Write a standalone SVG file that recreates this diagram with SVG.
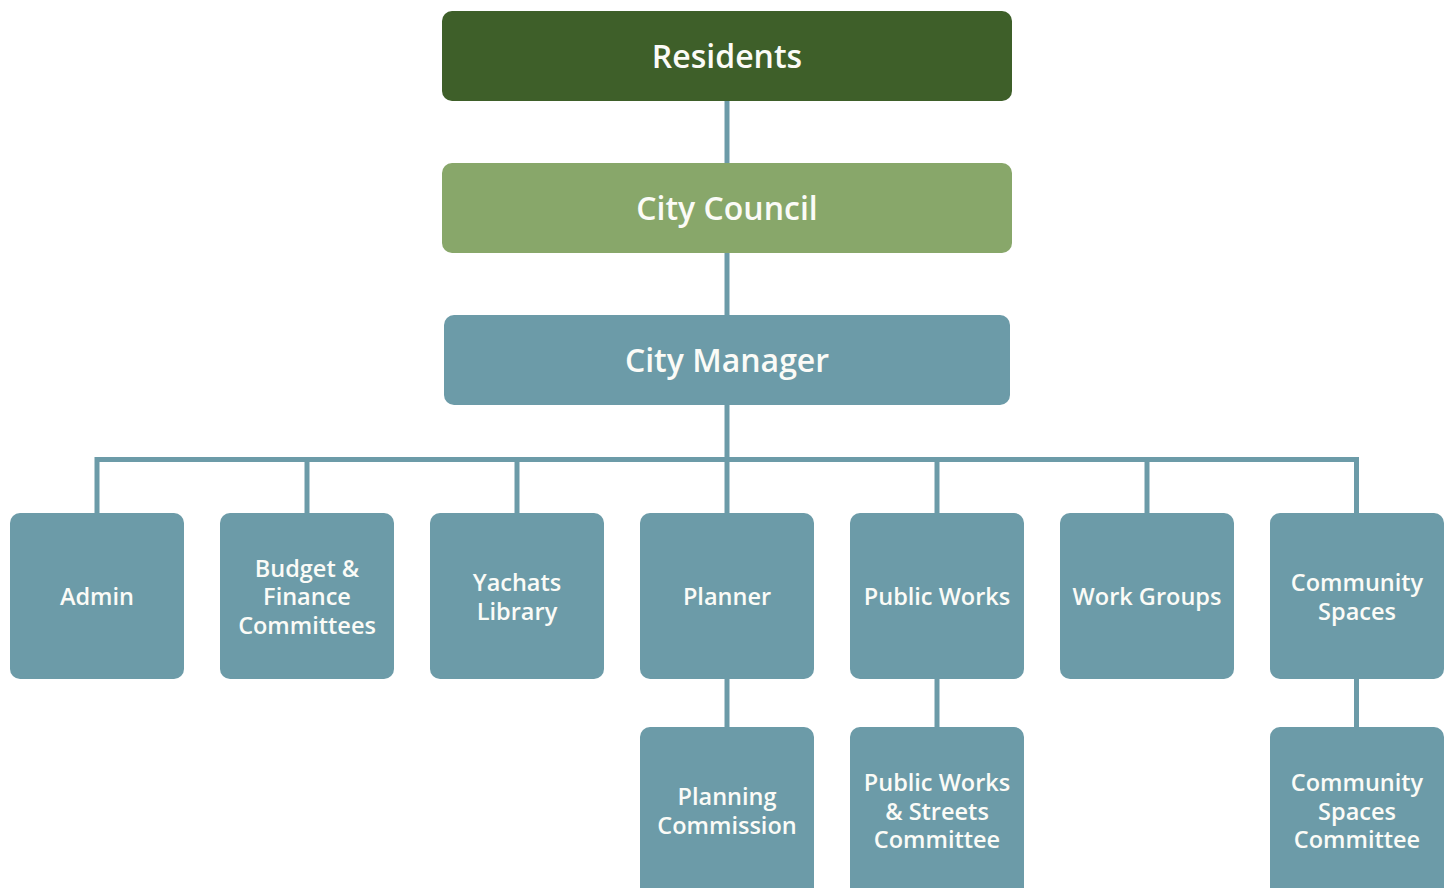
<svg xmlns="http://www.w3.org/2000/svg" width="1448" height="888" viewBox="0 0 1448 888">
<style>
.t{font-family:"Open Sans","Noto Sans","Liberation Sans",sans-serif;font-weight:600;fill:#fbfbf7;text-anchor:middle}
.big{font-size:32px}
.sm{font-size:23.5px}
.box{fill:#6c9ba8}
.ln{stroke:#6c9ba8;stroke-width:5;fill:none}
</style>
<rect width="1448" height="888" fill="#ffffff"/>
<g id="connectors">
<line class="ln" x1="727" y1="100" x2="727" y2="164"/>
<line class="ln" x1="727" y1="252" x2="727" y2="316"/>
<line class="ln" x1="727" y1="404" x2="727" y2="514"/>
<polyline class="ln" points="97,514 97,459.5 1356.5,459.5 1356.5,514"/>
<line class="ln" x1="307" y1="459" x2="307" y2="514"/>
<line class="ln" x1="517" y1="459" x2="517" y2="514"/>
<line class="ln" x1="937" y1="459" x2="937" y2="514"/>
<line class="ln" x1="1147" y1="459" x2="1147" y2="514"/>
<line class="ln" x1="727" y1="678" x2="727" y2="728"/>
<line class="ln" x1="937" y1="678" x2="937" y2="728"/>
<line class="ln" x1="1356.5" y1="678" x2="1356.5" y2="728"/>
</g>
<g id="residents"><rect x="442" y="11" width="570" height="90" rx="10" fill="#3e5f29"/><text class="t big" x="727" y="67.5">Residents</text></g>
<g id="city-council"><rect x="442" y="163" width="570" height="90" rx="10" fill="#88a76a"/><text class="t big" x="727" y="219.5">City Council</text></g>
<g id="city-manager"><rect x="444" y="315" width="566" height="90" rx="10" fill="#6c9ba8"/><text class="t big" x="727" y="372">City Manager</text></g>
<g id="admin"><rect class="box" x="10" y="513" width="174" height="166" rx="10"/><text class="t sm" x="97" y="604.5">Admin</text></g>
<g id="budget-finance"><rect class="box" x="220" y="513" width="174" height="166" rx="10"/><text class="t sm" x="307" y="576.5">Budget &amp;</text><text class="t sm" x="307" y="605">Finance</text><text class="t sm" x="307" y="634">Committees</text></g>
<g id="yachats-library"><rect class="box" x="430" y="513" width="174" height="166" rx="10"/><text class="t sm" x="517" y="590.5">Yachats</text><text class="t sm" x="517" y="619.5">Library</text></g>
<g id="planner"><rect class="box" x="640" y="513" width="174" height="166" rx="10"/><text class="t sm" x="727" y="604.5">Planner</text></g>
<g id="public-works"><rect class="box" x="850" y="513" width="174" height="166" rx="10"/><text class="t sm" x="937" y="604.5">Public Works</text></g>
<g id="work-groups"><rect class="box" x="1060" y="513" width="174" height="166" rx="10"/><text class="t sm" x="1147" y="604.5">Work Groups</text></g>
<g id="community-spaces"><rect class="box" x="1270" y="513" width="174" height="166" rx="10"/><text class="t sm" x="1357" y="590.5">Community</text><text class="t sm" x="1357" y="619.5">Spaces</text></g>
<g id="planning-commission"><rect class="box" x="640" y="727" width="174" height="170" rx="10"/><text class="t sm" x="727" y="804.5">Planning</text><text class="t sm" x="727" y="833.5">Commission</text></g>
<g id="pw-streets-committee"><rect class="box" x="850" y="727" width="174" height="170" rx="10"/><text class="t sm" x="937" y="790.5">Public Works</text><text class="t sm" x="937" y="819.5">&amp; Streets</text><text class="t sm" x="937" y="848">Committee</text></g>
<g id="community-spaces-committee"><rect class="box" x="1270" y="727" width="174" height="170" rx="10"/><text class="t sm" x="1357" y="790.5">Community</text><text class="t sm" x="1357" y="819.5">Spaces</text><text class="t sm" x="1357" y="848">Committee</text></g>
</svg>
